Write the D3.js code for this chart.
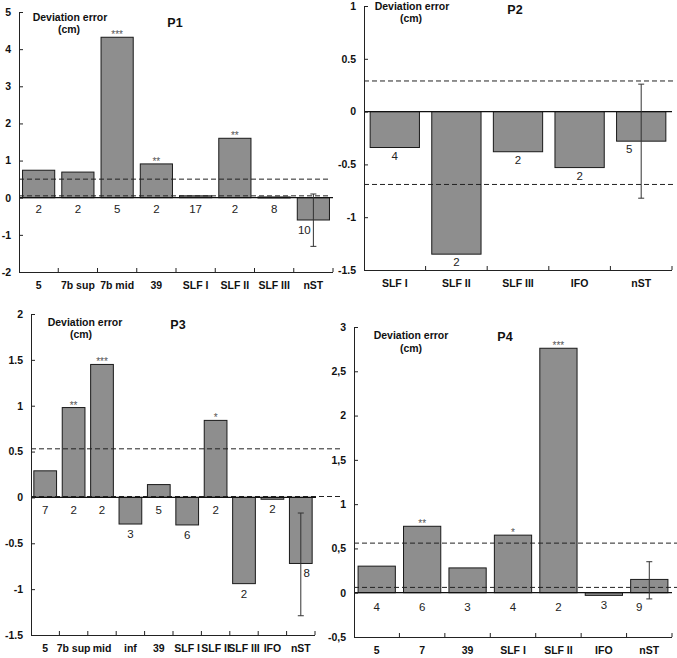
<!DOCTYPE html>
<html>
<head>
<meta charset="utf-8">
<script src="https://cdn.jsdelivr.net/npm/d3@7/dist/d3.min.js"></script>
<style>
  html, body { margin: 0; padding: 0; background: #fff; }
  svg { display: block; }
</style>
</head>
<body>
<svg id="chart" width="677" height="658"></svg>
<script>
// ---------------- DATA ----------------
const p1Categories = ["5", "7b sup", "7b mid", "39", "SLF I", "SLF II", "SLF III", "nST"];
const p1Values     = [0.74, 0.69, 4.32, 0.91, 0.05, 1.60, 0.02, -0.60];
const p1Counts     = [2, 2, 5, 2, 17, 2, 8, 10];
const p1Stars      = ["", "", "***", "**", "", "**", "", ""];
const p1ErrorBars  = [{ cat: "nST", low: -1.31, high: 0.10 }];
const p1Thresholds = [0.50, 0.05];
const p1YTicks     = [-2, -1, 0, 1, 2, 3, 4, 5];

const p2Categories = ["SLF I", "SLF II", "SLF III", "IFO", "nST"];
const p2Values     = [-0.34, -1.35, -0.38, -0.53, -0.28];
const p2Counts     = [4, 2, 2, 2, 5];
const p2Stars      = ["", "", "", "", ""];
const p2ErrorBars  = [{ cat: "nST", low: -0.82, high: 0.26 }];
const p2Thresholds = [0.29, -0.69];
const p2YTicks     = [-1.5, -1, -0.5, 0, 0.5, 1];

const p3Categories = ["5", "7b sup", "mid", "inf", "39", "SLF I", "SLF II", "SLF III", "IFO", "nST"];
const p3Values     = [0.29, 0.98, 1.45, -0.29, 0.14, -0.30, 0.84, -0.94, -0.02, -0.72];
const p3Counts     = [7, 2, 2, 3, 5, 6, 2, 2, 2, 8];
const p3Stars      = ["", "**", "***", "", "", "", "*", "", "", ""];
const p3ErrorBars  = [{ cat: "nST", low: -1.29, high: -0.17 }];
const p3Thresholds = [0.53, 0.01];
const p3YTicks     = [-1.5, -1, -0.5, 0, 0.5, 1, 1.5, 2];

const p4Categories = ["5", "7", "39", "SLF I", "SLF II", "IFO", "nST"];
const p4Values     = [0.30, 0.75, 0.28, 0.65, 2.76, -0.03, 0.15];
const p4Counts     = [4, 6, 3, 4, 2, 3, 9];
const p4Stars      = ["", "**", "", "*", "***", "", ""];
const p4ErrorBars  = [{ cat: "nST", low: -0.07, high: 0.35 }];
const p4Thresholds = [0.56, 0.06];
const p4YTicks     = [-0.5, 0, 0.5, 1, 1.5, 2, 2.5, 3];

const titleLine1 = "Deviation error";
const titleLine2 = "(cm)";

// ---------------- LAYOUT / STYLE ----------------
const FONT = "'Liberation Sans', Arial, Helvetica, sans-serif";
const svg = d3.select("#chart");

const dotFmt = d => String(d);
const commaFmt = d => String(d).replace(".", ",");

const panels = [
  { name: "P1", categories: p1Categories, values: p1Values, counts: p1Counts, stars: p1Stars,
    errors: p1ErrorBars, thresholds: p1Thresholds, yTicks: p1YTicks, fmt: dotFmt,
    domain: [-2, 5], left: 19, right: 333, top: 12, bottom: 272, pad: 0.18,
    dashEnd: 329, zeroEnd: 333, countGap: 15, negGap: 14, errDx: -9,
    t1: [70, 21], t2: [69, 33], tp: [175, 27] },
  { name: "P2", categories: p2Categories, values: p2Values, counts: p2Counts, stars: p2Stars,
    errors: p2ErrorBars, thresholds: p2Thresholds, yTicks: p2YTicks, fmt: dotFmt,
    domain: [-1.5, 1], left: 364, right: 672, top: 6, bottom: 270, pad: 0.2,
    dashEnd: 673, zeroEnd: 672, countGap: 15, negGap: 12, errDx: -12,
    t1: [412, 10], t2: [411, 22], tp: [515, 14] },
  { name: "P3", categories: p3Categories, values: p3Values, counts: p3Counts, stars: p3Stars,
    errors: p3ErrorBars, thresholds: p3Thresholds, yTicks: p3YTicks, fmt: dotFmt,
    domain: [-1.5, 2], left: 31, right: 315, top: 314, bottom: 635, pad: 0.2,
    dashEnd: 340, zeroEnd: 316, countGap: 17, negGap: 14, errDx: 6,
    t1: [85, 326], t2: [81, 338], tp: [178, 329] },
  { name: "P4", categories: p4Categories, values: p4Values, counts: p4Counts, stars: p4Stars,
    errors: p4ErrorBars, thresholds: p4Thresholds, yTicks: p4YTicks, fmt: commaFmt,
    domain: [-0.5, 3], left: 354, right: 672, top: 327, bottom: 637, pad: 0.18,
    dashEnd: 677, zeroEnd: 672, countGap: 18, negGap: 14, errDx: -10,
    t1: [411, 339], t2: [411, 352], tp: [505, 341] }
];

function drawPanel(p) {
  const g = svg.append("g").attr("class", "panel-" + p.name);
  const x = d3.scaleBand().domain(p.categories).range([p.left, p.right])
    .paddingInner(p.pad).paddingOuter(p.pad / 2);
  const y = d3.scaleLinear().domain(p.domain).range([p.bottom, p.top]);

  const rows = p.categories.map((c, i) => ({ c, v: p.values[i], n: p.counts[i], s: p.stars[i] }));
  const errCats = new Set(p.errors.map(e => e.cat));

  // bars
  g.selectAll("rect.bar").data(rows).join("rect")
    .attr("class", "bar")
    .attr("x", d => x(d.c))
    .attr("width", x.bandwidth())
    .attr("y", d => y(Math.max(0, d.v)))
    .attr("height", d => Math.max(1, Math.abs(y(d.v) - y(0))))
    .attr("fill", "#8e8e8e")
    .attr("stroke", "#1a1a1a")
    .attr("stroke-width", 1);

  // dashed threshold lines
  g.selectAll("line.thr").data(p.thresholds).join("line")
    .attr("class", "thr")
    .attr("x1", p.left).attr("x2", p.dashEnd)
    .attr("y1", d => y(d)).attr("y2", d => y(d))
    .attr("stroke", "#222").attr("stroke-width", 1)
    .attr("stroke-dasharray", "5,3");

  // zero line
  g.append("line")
    .attr("x1", p.left).attr("x2", p.zeroEnd)
    .attr("y1", y(0)).attr("y2", y(0))
    .attr("stroke", "#111").attr("stroke-width", 1.2);

  // error bars
  const eg = g.selectAll("g.err").data(p.errors).join("g").attr("class", "err")
    .attr("stroke", "#333").attr("stroke-width", 1);
  eg.append("line")
    .attr("x1", d => x(d.cat) + x.bandwidth() / 2).attr("x2", d => x(d.cat) + x.bandwidth() / 2)
    .attr("y1", d => y(d.high)).attr("y2", d => y(d.low));
  eg.append("line")
    .attr("x1", d => x(d.cat) + x.bandwidth() / 2 - 3).attr("x2", d => x(d.cat) + x.bandwidth() / 2 + 3)
    .attr("y1", d => y(d.high)).attr("y2", d => y(d.high));
  eg.append("line")
    .attr("x1", d => x(d.cat) + x.bandwidth() / 2 - 3).attr("x2", d => x(d.cat) + x.bandwidth() / 2 + 3)
    .attr("y1", d => y(d.low)).attr("y2", d => y(d.low));

  // count labels
  g.selectAll("text.count").data(rows).join("text")
    .attr("class", "count")
    .attr("x", d => x(d.c) + x.bandwidth() / 2 + (errCats.has(d.c) ? p.errDx : 0))
    .attr("y", d => d.v >= 0 ? y(0) + p.countGap : y(d.v) + p.negGap)
    .attr("text-anchor", "middle")
    .attr("font-family", FONT).attr("font-size", 11.5).attr("fill", "#222")
    .text(d => d.n);

  // significance stars
  g.selectAll("text.star").data(rows.filter(d => d.s)).join("text")
    .attr("class", "star")
    .attr("x", d => x(d.c) + x.bandwidth() / 2)
    .attr("y", d => y(d.v) + 1)
    .attr("text-anchor", "middle")
    .attr("font-family", FONT).attr("font-size", 10).attr("fill", "#555")
    .text(d => d.s);

  // y axis (ticks pointing inward)
  const ya = g.append("g")
    .attr("transform", `translate(${p.left},0)`)
    .call(d3.axisLeft(y).tickValues(p.yTicks).tickSize(-4).tickSizeOuter(0)
      .tickPadding(8).tickFormat(p.fmt));
  ya.attr("font-family", FONT).attr("font-size", 10.5).attr("font-weight", "bold");
  ya.selectAll("path, line").attr("stroke", "#222");
  ya.selectAll("text").attr("fill", "#111");

  // x axis: bottom line, inward ticks at band boundaries, category labels
  const xa = g.append("g");
  xa.append("line")
    .attr("x1", p.left).attr("x2", p.right)
    .attr("y1", p.bottom + 0.5).attr("y2", p.bottom + 0.5)
    .attr("stroke", "#222");
  const bounds = d3.range(1, p.categories.length + 1).map(i => x.range()[0] + i * x.step());
  xa.selectAll("line.xt").data(bounds).join("line")
    .attr("class", "xt")
    .attr("x1", d => d).attr("x2", d => d)
    .attr("y1", p.bottom).attr("y2", p.bottom - 4)
    .attr("stroke", "#222");
  xa.selectAll("text.cat").data(p.categories).join("text")
    .attr("class", "cat")
    .attr("x", d => x(d) + x.bandwidth() / 2)
    .attr("y", p.bottom + 17)
    .attr("text-anchor", "middle")
    .attr("font-family", FONT).attr("font-size", 10.5).attr("font-weight", "bold")
    .attr("fill", "#111")
    .text(d => d);

  // titles
  g.append("text").attr("x", p.t1[0]).attr("y", p.t1[1]).attr("text-anchor", "middle")
    .attr("font-family", FONT).attr("font-size", 10.5).attr("font-weight", "bold").attr("fill", "#111")
    .text(titleLine1);
  g.append("text").attr("x", p.t2[0]).attr("y", p.t2[1]).attr("text-anchor", "middle")
    .attr("font-family", FONT).attr("font-size", 10.5).attr("font-weight", "bold").attr("fill", "#111")
    .text(titleLine2);
  g.append("text").attr("x", p.tp[0]).attr("y", p.tp[1]).attr("text-anchor", "middle")
    .attr("font-family", FONT).attr("font-size", 12.5).attr("font-weight", "bold").attr("fill", "#111")
    .text(p.name);
}

panels.forEach(drawPanel);
</script>
</body>
</html>
